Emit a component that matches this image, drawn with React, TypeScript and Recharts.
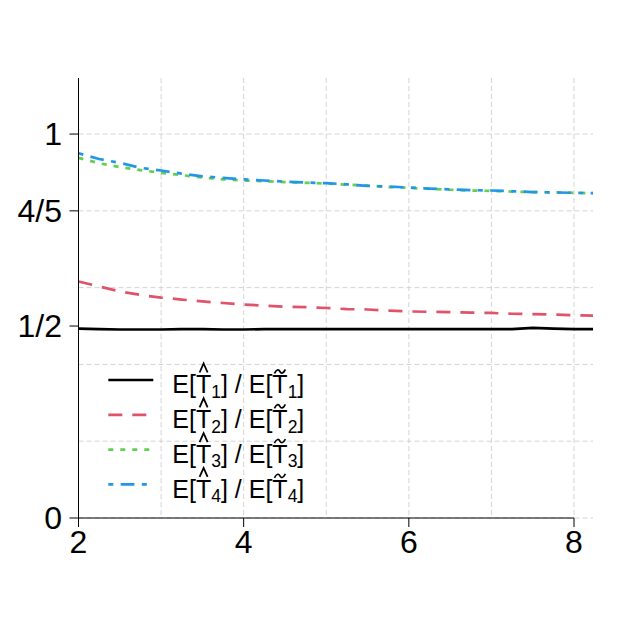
import React from 'react';
import { LineChart, Line, XAxis, YAxis, CartesianGrid, ReferenceLine, Legend } from 'recharts';

// sample sizes on the x axis
const xValues = [2, 2.25, 2.5, 2.75, 3, 3.25, 3.5, 3.75, 4, 4.25, 4.5, 4.75, 5, 5.25, 5.5, 5.75, 6, 6.25, 6.5, 6.75, 7, 7.25, 7.5, 7.75, 8, 8.23];

// ratio E[T^k] / E[T~k] for k = 1..4
const ratio1 = [0.493, 0.492, 0.491, 0.491, 0.491, 0.492, 0.492, 0.491, 0.491, 0.492, 0.492, 0.492, 0.492, 0.492, 0.492, 0.492, 0.492, 0.492, 0.492, 0.492, 0.492, 0.492, 0.495, 0.493, 0.492, 0.492];
const ratio2 = [0.616, 0.603, 0.59, 0.581, 0.574, 0.569, 0.564, 0.56, 0.556, 0.553, 0.55, 0.549, 0.547, 0.544, 0.543, 0.54, 0.538, 0.537, 0.536, 0.535, 0.534, 0.532, 0.531, 0.53, 0.528, 0.527];
const ratio3 = [0.938, 0.924, 0.914, 0.906, 0.899, 0.893, 0.887, 0.882, 0.879, 0.877, 0.875, 0.873, 0.871, 0.868, 0.866, 0.862, 0.86, 0.857, 0.855, 0.853, 0.852, 0.85, 0.849, 0.848, 0.847, 0.846];
const ratio4 = [0.95, 0.935, 0.925, 0.912, 0.905, 0.897, 0.89, 0.886, 0.882, 0.879, 0.876, 0.874, 0.872, 0.869, 0.865, 0.863, 0.861, 0.858, 0.856, 0.854, 0.853, 0.851, 0.849, 0.848, 0.847, 0.846];

const seriesKeys = ['t1', 't2', 't3', 't4'];
const seriesIndex = ['1', '2', '3', '4'];
const seriesColors = ['#000000', '#DF536B', '#61D04F', '#2297E6'];
const seriesDashes = ['', '14 10', '5 7', '5 7.4 13.7 7.4'];

const xTicks = [2, 4, 6, 8];
const yTicks = [0, 0.5, 0.8, 1];
const yTickLabels = ['0', '1/2', '4/5', '1'];
const gridX = [2, 3, 4, 5, 6, 7, 8];
const gridY = [0, 0.2, 0.4, 0.6, 0.8, 1];

const FONT = '"Liberation Sans", Arial, sans-serif';

const data = xValues.map((x, i) => ({
  x,
  t1: ratio1[i],
  t2: ratio2[i],
  t3: ratio3[i],
  t4: ratio4[i],
}));

// legend drawn by hand so the hat / tilde sit above the T like in plotmath
const LegendBlock = () => (
  <svg width={240} height={145} style={{ display: 'block', overflow: 'visible' }}>
    {seriesIndex.map((idx, i) => {
      const y = 20 + i * 34.8;
      const base = y + 13.3;
      const tx = 77.3;
      const hatX = tx + 31.3;
      const tildeX = tx + 107.6;
      return (
        <g key={idx}>
          <line
            x1={13.3}
            x2={58.3}
            y1={y}
            y2={y}
            stroke={seriesColors[i]}
            strokeWidth={2.7}
            strokeDasharray={seriesDashes[i] || undefined}
          />
          <text x={tx} y={base} fontFamily={FONT} fontSize={25} fill="#000">
            E[T<tspan dy={4.5} fontSize={17.5}>{idx}</tspan>
            <tspan dy={-4.5}>] / E[T</tspan>
            <tspan dy={4.5} fontSize={17.5}>{idx}</tspan>
            <tspan dy={-4.5}>]</tspan>
          </text>
          <path
            d={`M${hatX - 4},${y - 7.5} L${hatX},${y - 16.5} L${hatX + 4},${y - 7.5}`}
            stroke="#000"
            strokeWidth={1.8}
            fill="none"
          />
          <path
            d={`M${tildeX - 5.5},${y - 6.5} C${tildeX - 3},${y - 11.5} ${tildeX - 1},${y - 10.5} ${tildeX},${y - 8.5} S${tildeX + 3},${y - 5.5} ${tildeX + 5.5},${y - 10.5}`}
            stroke="#000"
            strokeWidth={1.7}
            fill="none"
          />
        </g>
      );
    })}
  </svg>
);

const App: React.FC = () => {
  return (
    <div style={{ position: 'absolute', left: 0, top: 0, width: 634, height: 633, background: '#fff' }}>
      <LineChart width={634} height={633} data={data} margin={{ top: 78, right: 41, bottom: 0, left: 0 }}>
        <CartesianGrid
          stroke="#D3D3D3"
          strokeDasharray="5 3"
          verticalValues={gridX}
          horizontalValues={gridY}
        />
        <XAxis
          dataKey="x"
          type="number"
          domain={[2, 8.23]}
          ticks={xTicks}
          allowDataOverflow
          height={115}
          axisLine={false}
          tickLine={{ stroke: '#000', strokeWidth: 1 }}
          tickSize={9}
          tickMargin={3}
          tick={{ fill: '#000', fontSize: 32, fontFamily: FONT }}
        />
        <YAxis
          type="number"
          domain={[0, 1.146]}
          ticks={yTicks}
          allowDataOverflow
          width={78.5}
          axisLine={{ stroke: '#000', strokeWidth: 1 }}
          tickLine={{ stroke: '#000', strokeWidth: 1 }}
          tickSize={9}
          tickMargin={7.5}
          tick={{ fill: '#000', fontSize: 32, fontFamily: FONT }}
          tickFormatter={(v: number) => yTickLabels[yTicks.indexOf(v)] ?? String(v)}
        />
        <ReferenceLine
          segment={[{ x: xTicks[0], y: 0 }, { x: xTicks[xTicks.length - 1], y: 0 }]}
          stroke="#000"
          strokeWidth={1}
        />
        {seriesKeys.map((key, i) => (
          <Line
            key={key}
            dataKey={key}
            type="linear"
            stroke={seriesColors[i]}
            strokeWidth={2.7}
            strokeDasharray={seriesDashes[i] || undefined}
            dot={false}
            activeDot={false}
            isAnimationActive={false}
          />
        ))}
        <Legend
          layout="vertical"
          align="center"
          verticalAlign="middle"
          wrapperStyle={{ left: 95, top: 360, width: 240, height: 145 }}
          content={() => <LegendBlock />}
        />
      </LineChart>
    </div>
  );
};

export default App;
